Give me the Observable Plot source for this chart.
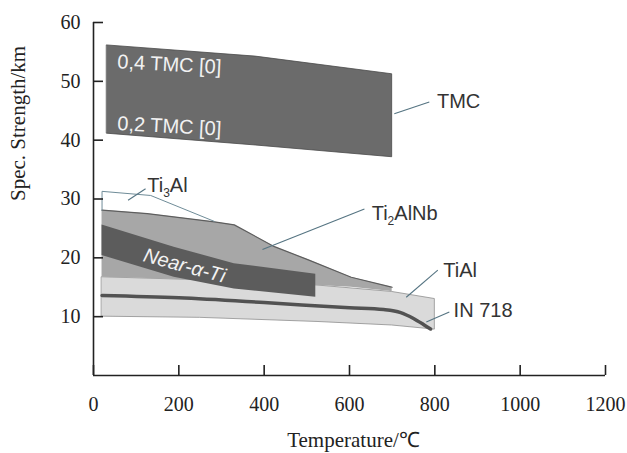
<!DOCTYPE html>
<html>
<head>
<meta charset="utf-8">
<script src="https://cdn.jsdelivr.net/npm/d3@7"></script>
<script src="https://cdn.jsdelivr.net/npm/@observablehq/plot@0.6"></script>
<style>
  body { margin: 0; background: #fff; }
</style>
</head>
<body>
<div id="chart"></div>
<script>
// Specific strength (km) of titanium-based alloys vs. temperature (°C)

// TMC band
const tmcT  = [32, 380, 700];
const tmcHi = [56.1, 54.2, 51.2];
const tmcLo = [41.1, 39.1, 37.1];

// TiAl band
const tiAlT  = [20, 250, 525, 700, 800];
const tiAlHi = [16.7, 16.2, 15.3, 14.2, 13.0];
const tiAlLo = [10.0, 9.8, 9.1, 8.5, 7.8];

// Ti2AlNb band
const ti2AlNbT  = [20, 126, 283, 330, 424, 502, 604, 694, 700];
const ti2AlNbHi = [28.1, 27.5, 26.1, 25.6, 21.9, 19.7, 16.7, 15.1, 15.0];
const ti2AlNbLo = [16.7, 16.5, 16.1, 16.0, 15.7, 15.4, 15.0, 14.3, 14.2];

// Near-alpha Ti band
const nearAlphaT  = [20, 189, 330, 521];
const nearAlphaHi = [25.6, 21.8, 19.0, 17.2];
const nearAlphaLo = [20.4, 16.7, 14.7, 13.3];

// Ti3Al outline
const ti3AlT = [20, 20, 134, 283];
const ti3AlV = [28.1, 31.3, 30.6, 26.2];

// IN 718 curve
const in718T = [20, 200, 400, 600, 680, 720, 750, 775, 790];
const in718V = [13.6, 13.2, 12.4, 11.5, 11.2, 10.7, 9.7, 8.6, 7.9];

// Callout labels and their leader lines
const labelNames = ["TMC", "Ti2AlNb", "Ti3Al", "TiAl", "IN 718"];
const labelT     = [805, 652, 126, 820, 844];
const labelV     = [46.5, 27.6, 32.3, 17.9, 11.05];
const leaderT1   = [705, 396, 81, 733, 780];
const leaderV1   = [44.5, 21.4, 29.8, 13.3, 9.1];
const leaderT2   = [787, 635, 122, 807, 834];
const leaderV2   = [46.5, 28.3, 31.75, 17.9, 10.8];

// Labels written inside the bands
const innerNames  = ["0,4 TMC [0]", "0,2 TMC [0]"];
const innerT      = [56, 56];
const innerV      = [53.3, 42.8];

const xTicks = [0, 200, 400, 600, 800, 1000, 1200];
const yTicks = [10, 20, 30, 40, 50, 60];

const band = (ts, hi, lo) => ts.map((t, i) => ({t, hi: hi[i], lo: lo[i]}));
const curve = (ts, vs) => ts.map((t, i) => ({t, v: vs[i]}));

const tmc = band(tmcT, tmcHi, tmcLo);
const tiAl = band(tiAlT, tiAlHi, tiAlLo);
const ti2AlNb = band(ti2AlNbT, ti2AlNbHi, ti2AlNbLo);
const nearAlpha = band(nearAlphaT, nearAlphaHi, nearAlphaLo);
const ti3Al = curve(ti3AlT, ti3AlV);
const in718 = curve(in718T, in718V);
const labels = labelNames.map((name, i) => ({name, t: labelT[i], v: labelV[i],
  t1: leaderT1[i], v1: leaderV1[i], t2: leaderT2[i], v2: leaderV2[i]}));
const inner = innerNames.map((name, i) => ({name, t: innerT[i], v: innerV[i]}));

const serif = "'Liberation Serif', 'Times New Roman', serif";
const sans = "'Liberation Sans', Arial, Helvetica, sans-serif";
const leaderColor = "#557482";
const ink = "#222";
const tickLength = 10;

const chart = Plot.plot({
  width: 627,
  height: 453,
  marginLeft: 93,
  marginRight: 22,
  marginTop: 22,
  marginBottom: 78,
  style: {fontFamily: serif, fontSize: "20px", color: ink, background: "#fff"},
  x: {domain: [0, 1200], label: null},
  y: {domain: [0, 60], label: null},
  marks: [
    Plot.areaY(tmc, {x: "t", y1: "lo", y2: "hi", fill: "#6b6b6b", stroke: "#4a4a4a", strokeWidth: 0.8}),
    Plot.areaY(tiAl, {x: "t", y1: "lo", y2: "hi", fill: "#dadada", stroke: "#8e8e8e", strokeWidth: 0.8}),
    Plot.areaY(ti2AlNb, {x: "t", y1: "lo", y2: "hi", fill: "#a7a7a7"}),
    Plot.line(ti2AlNb, {x: "t", y: "hi", stroke: "#5e5e5e", strokeWidth: 1.2}),
    Plot.areaY(nearAlpha, {x: "t", y1: "lo", y2: "hi", fill: "#5c5c5c"}),
    Plot.line(in718, {x: "t", y: "v", stroke: "#525252", strokeWidth: 3.5, curve: "monotone-x"}),
    Plot.line(ti3Al, {x: "t", y: "v", stroke: "#6f8c98", strokeWidth: 1}),
    Plot.link(labels, {x1: "t1", y1: "v1", x2: "t2", y2: "v2", stroke: leaderColor, strokeWidth: 1.1}),
    Plot.text(labels, {x: "t", y: "v", text: "name", textAnchor: "start", fontFamily: sans, fontSize: 20, fill: "#333", letterSpacing: "-0.5px"}),
    Plot.text(inner, {x: "t", y: "v", text: "name", textAnchor: "start", fontFamily: sans, fontSize: 20, fill: "#f2f2f2", rotate: 3, letterSpacing: "-0.5px"}),
    Plot.text(["Near-α-Ti"], {x: 118, y: 20.5, text: d => d, textAnchor: "start", fontFamily: sans, fontSize: 20, fontStyle: "italic", fill: "#f2f2f2", rotate: 15, letterSpacing: "-0.5px"}),
    // axis lines
    Plot.ruleX([0], {stroke: ink, strokeWidth: 1.6}),
    Plot.ruleY([0], {stroke: ink, strokeWidth: 1.6}),
    // inward ticks: zero-length rules at the axis, extended into the frame by a negative inset
    Plot.ruleX(xTicks, {x: d => d, y1: 0, y2: 0, insetTop: -tickLength, stroke: ink, strokeWidth: 1.6}),
    Plot.ruleY(yTicks, {y: d => d, x1: 0, x2: 0, insetRight: -tickLength, stroke: ink, strokeWidth: 1.6}),
    // tick labels
    Plot.axisX(xTicks, {tickSize: 0, tickPadding: 21, tickFormat: "d", fontFamily: serif, fontSize: 20, fill: ink, label: null}),
    Plot.axisY(yTicks, {tickSize: 0, tickPadding: 13, tickFormat: "d", fontFamily: serif, fontSize: 20, fill: ink, label: null}),
    // axis titles
    Plot.text(["Temperature/℃"], {frameAnchor: "bottom", dx: 4, dy: 65, lineAnchor: "middle", text: d => d, fontFamily: serif, fontSize: 21, fill: ink}),
    Plot.text(["Spec. Strength/km"], {frameAnchor: "left", dx: -75, dy: 2, rotate: -90, lineAnchor: "middle", text: d => d, fontFamily: serif, fontSize: 21, fill: ink})
  ]
});

// Render chemical formula digits as subscripts
chart.querySelectorAll("text").forEach(el => {
  const m = /^(Ti)(\d)(Al.*)$/.exec(el.textContent);
  if (!m) return;
  el.textContent = "";
  const ns = "http://www.w3.org/2000/svg";
  const a = document.createElementNS(ns, "tspan"); a.textContent = m[1];
  const b = document.createElementNS(ns, "tspan"); b.textContent = m[2];
  b.setAttribute("dy", "5"); b.setAttribute("font-size", "12");
  const c = document.createElementNS(ns, "tspan"); c.textContent = m[3];
  c.setAttribute("dy", "-5");
  el.append(a, b, c);
});

document.getElementById("chart").append(chart);
</script>
</body>
</html>
